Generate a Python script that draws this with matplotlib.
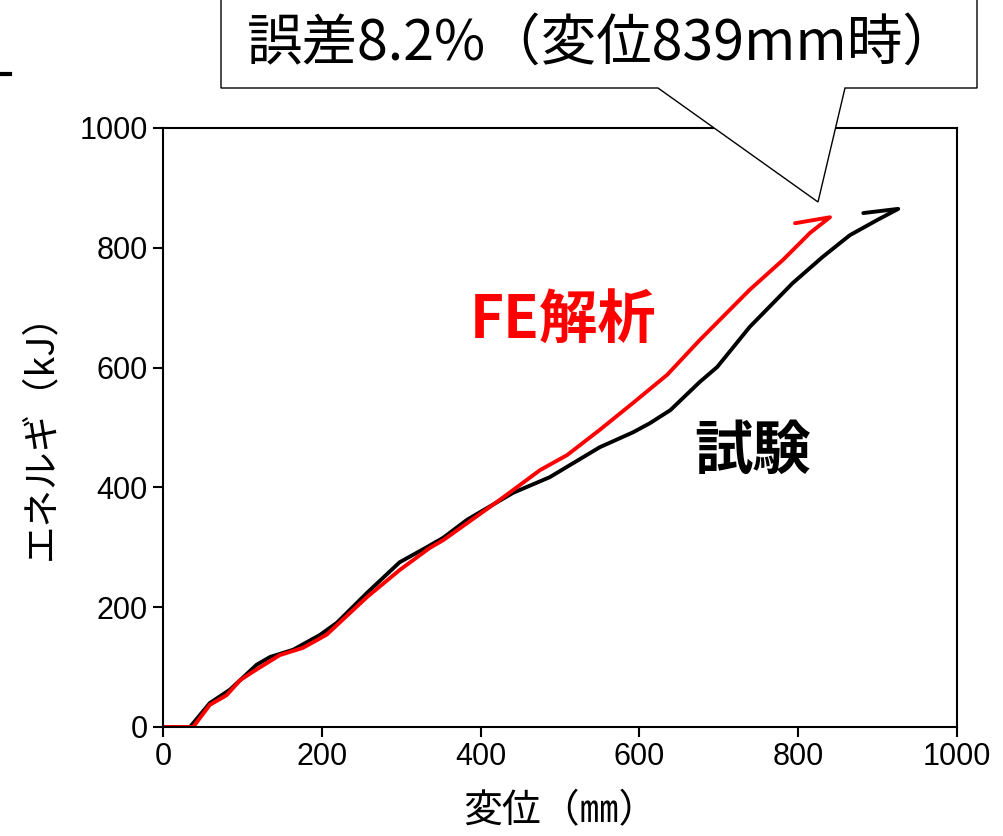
import matplotlib
matplotlib.use('Agg')
import matplotlib.pyplot as plt
from matplotlib.patches import Polygon
from matplotlib.lines import Line2D

plt.rcParams['font.family'] = ['Noto Sans CJK JP', 'DejaVu Sans']

# 試験 (test) curve
test_x = [0, 34, 59, 84, 97, 118, 135, 164, 198, 219, 257, 298, 332, 353, 383, 441,
          487, 550, 592, 613, 639, 676, 698, 739, 793, 831, 865, 899, 926, 882]
test_y = [0, 0, 40, 62, 78, 104, 117, 129, 154, 174, 224, 275, 300, 316, 346, 391,
          417, 467, 492, 507, 529, 576, 601, 668, 741, 785, 821, 846, 865, 858]

# FE解析 (FE analysis) curve
fe_x = [0, 38, 59, 80, 97, 113, 147, 176, 206, 257, 298, 336, 353, 424, 475, 509,
        550, 592, 635, 676, 739, 781, 815, 840, 796]
fe_y = [0, 0, 37, 53, 78, 92, 120, 132, 154, 217, 262, 299, 312, 379, 429, 454,
        496, 541, 588, 646, 730, 780, 825, 851, 841]

ticks = [0, 200, 400, 600, 800, 1000]

W, H = 1004, 836


def main():
    fig = plt.figure(figsize=(W / 100, H / 100), dpi=100)
    ax = fig.add_axes([163 / W, 1 - 727 / H, (957 - 163) / W, (727 - 128) / H])

    ax.plot(test_x, test_y, color='black', lw=2.8, solid_joinstyle='round', solid_capstyle='round')
    ax.plot(fe_x, fe_y, color='#ff0000', lw=2.8, solid_joinstyle='round', solid_capstyle='round')

    ax.set_xlim(0, 1000)
    ax.set_ylim(0, 1000)
    ax.set_xticks(ticks)
    ax.set_yticks(ticks)
    ax.tick_params(direction='out', length=7, width=1.5, labelsize=22, pad=4)
    for lab in ax.get_xticklabels() + ax.get_yticklabels():
        lab.set_fontfamily('Liberation Sans')
    for s in ax.spines.values():
        s.set_linewidth(1.5)

    ax.set_xlabel('変位（㎜）', fontsize=28, labelpad=14)
    ax.set_ylabel('エネルギ（kJ）', fontsize=27, labelpad=14)

    ax.text(504, 676, 'FE解析', color='#ff0000', fontsize=42, fontweight='bold',
            ha='center', va='center')
    ax.text(742, 459, '試験', color='black', fontsize=42, fontweight='bold',
            ha='center', va='center')

    # callout box with tail
    pts = [(221, -5), (977, -5), (977, 88), (845, 88), (818, 202), (658, 88), (221, 88)]
    pts = [(x / W, 1 - y / H) for x, y in pts]
    poly = Polygon(pts, closed=True, facecolor='white', edgecolor='black', lw=1.0,
                   transform=fig.transFigure, clip_on=False, zorder=5)
    fig.add_artist(poly)
    fig.text(603 / W, 1 - 44 / H, '誤差8.2%（変位839mm時）', fontsize=40,
             ha='center', va='center', zorder=6)

    # fragment at top-left
    fig.add_artist(Line2D([0, 10 / W], [1 - 74 / H, 1 - 74 / H], color='black', lw=3,
                          transform=fig.transFigure))

    plt.savefig('out.png', dpi=100)


if __name__ == "__main__":
    main()
